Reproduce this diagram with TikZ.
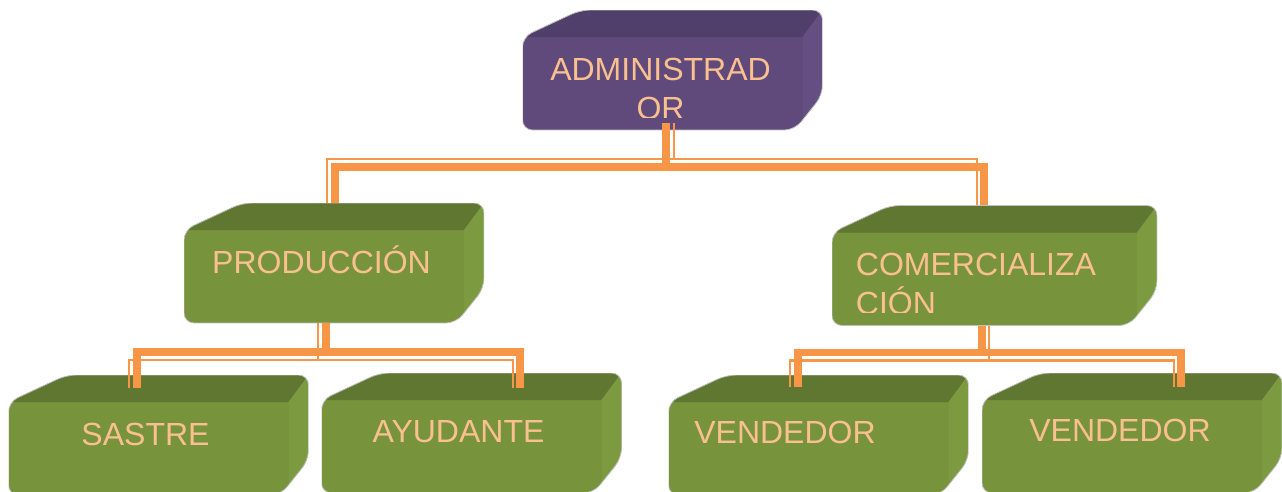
\documentclass[tikz,border=0pt]{standalone}
\usepackage{fontspec}
\newfontfamily\arial{Liberation Sans}
\usetikzlibrary{positioning}

\definecolor{naranja}{HTML}{F79646}
\definecolor{letra}{HTML}{FAC090}
\definecolor{verdefrente}{HTML}{77933C}
\definecolor{verdetapa}{HTML}{607732}
\definecolor{verdelado}{HTML}{7C9A40}
\definecolor{moradofrente}{HTML}{604A7B}
\definecolor{moradotapa}{HTML}{503E6B}
\definecolor{moradolado}{HTML}{654E82}

\begin{document}
\begin{tikzpicture}[x=1pt,y=-1pt,
  caja/.style={minimum width=300pt,minimum height=120pt,inner sep=0pt,
    path picture={
      \coordinate (nw) at (path picture bounding box.north west);
      \coordinate (se) at (path picture bounding box.south east);
      \coordinate (ne) at (nw -| se);
      \coordinate (sw) at (nw |- se);
      \begin{scope}
        \clip[rounded corners=10pt] ([yshift=-27pt]nw) -- ([xshift=58pt]nw) -- (ne) -- ([yshift=35pt]se) -- ([xshift=-28pt]se) -- (sw) -- cycle;
        \fill[#1frente] (nw) rectangle (se);
        \fill[#1tapa] ([yshift=-27pt]nw) -- ([xshift=58pt]nw) -- (ne) -- ([xshift=-20pt,yshift=-27pt]ne) -- cycle;
        \fill[#1lado] ([xshift=-20pt,yshift=-27pt]ne) -- (ne) -- ([yshift=35pt]se) -- ([xshift=-20pt,yshift=10pt]se) -- cycle;
      \end{scope}
      \draw[black!25,line width=0.8pt,rounded corners=10pt] ([yshift=-27pt]nw) -- ([xshift=58pt]nw) -- (ne) -- ([yshift=35pt]se) -- ([xshift=-28pt]se) -- (sw) -- cycle;
    }},
  rotulo/.style={text=letra,font=\arial\fontsize{32}{38}\selectfont,inner sep=0pt,text height=24pt,text depth=7pt},
  grueso/.style={draw=naranja,line width=7.5pt},
  fino/.style={draw=naranja,line width=2.5pt}]

\useasboundingbox (0,0) rectangle (1282,491);

% cajas
\node[caja=morado] (adm) at (672.5,70) {};
\node[caja=verde]  (prod) [on grid,below left=193pt and 338.5pt of adm]  {};
\node[caja=verde,minimum width=325pt] (com) [on grid,below right=195.5pt and 322pt of adm] {};
\node[caja=verde]  (sas)  [on grid,below left=172pt and 175.5pt of prod] {};
\node[caja=verde]  (ayu)  [on grid,below right=170pt and 137.5pt of prod] {};
\node[caja=verde]  (ven1) [on grid,below left=169.5pt and 176pt of com]  {};
\node[caja=verde]  (ven2) [on grid,below right=167.5pt and 137.5pt of com] {};

% textos
\node[rotulo] (admt)  [on grid,below left=1.5pt and 12pt of adm]   {ADMINISTRAD};
\node[rotulo] (prodt) [on grid,below left=1.5pt and 12.5pt of prod] {PRODUCCIÓN};
\node[rotulo] (comt)  [on grid,below left=1pt and 18.5pt of com]    {COMERCIALIZA};
\node[rotulo] (sast)  [on grid,below left=1.5pt and 13pt of sas]    {SASTRE};
\node[rotulo] (ayut)  [on grid,below left=0.5pt and 13pt of ayu]    {AYUDANTE};
\node[rotulo] (ven1t) [on grid,left=33.5pt of ven1]                 {VENDEDOR};
\node[rotulo] (ven2t) [on grid,left=12pt of ven2]                   {VENDEDOR};
\begin{scope}
  \clip (adm.north west) rectangle ([yshift=13pt]adm.south east);
  \node[rotulo] (admt2) [on grid,below=39pt of admt] {OR};
\end{scope}
\begin{scope}
  \clip (com.north west) rectangle ([yshift=13pt]com.south east);
  \node[rotulo] (comt2) [on grid,below=39pt of comt.west,anchor=west] {CIÓN};
\end{scope}

% lineas
\draw[grueso] ([xshift=-6.5pt,yshift=7pt]adm.south) -- ++(0,44) -| ([xshift=1pt]prod.north);
\draw[grueso] ([xshift=-6.5pt,yshift=7pt]adm.south) -- ++(0,44) -| ([xshift=-10.5pt]com.north);
\draw[fino]   ([xshift=1.5pt,yshift=7pt]adm.south) -- ++(0,36) -| ([xshift=-7pt]prod.north);
\draw[fino]   ([xshift=1.5pt,yshift=7pt]adm.south) -- ++(0,36) -| ([xshift=-17.5pt]com.north);

\draw[grueso] ([xshift=-8pt]prod.south) -- ++(0,29) -| ([xshift=-21.5pt,yshift=-13pt]sas.north);
\draw[grueso] ([xshift=-8pt]prod.south) -- ++(0,29) -| ([xshift=48.5pt,yshift=-15pt]ayu.north);
\draw[fino]   ([xshift=-16pt]prod.south) -- ++(0,37) -| ([xshift=-29.5pt,yshift=-13pt]sas.north);
\draw[fino]   ([xshift=-16pt]prod.south) -- ++(0,37) -| ([xshift=41.5pt,yshift=-15pt]ayu.north);

\draw[grueso] ([xshift=-12.5pt]com.south) -- ++(0,27) -| ([xshift=-20.5pt,yshift=-12pt]ven1.north);
\draw[grueso] ([xshift=-12.5pt]com.south) -- ++(0,27) -| ([xshift=49pt,yshift=-14pt]ven2.north);
\draw[fino]   ([xshift=-5.5pt]com.south) -- ++(0,35) -| ([xshift=-28.5pt,yshift=-12pt]ven1.north);
\draw[fino]   ([xshift=-5.5pt]com.south) -- ++(0,35) -| ([xshift=42pt,yshift=-14pt]ven2.north);

\end{tikzpicture}
\end{document}
